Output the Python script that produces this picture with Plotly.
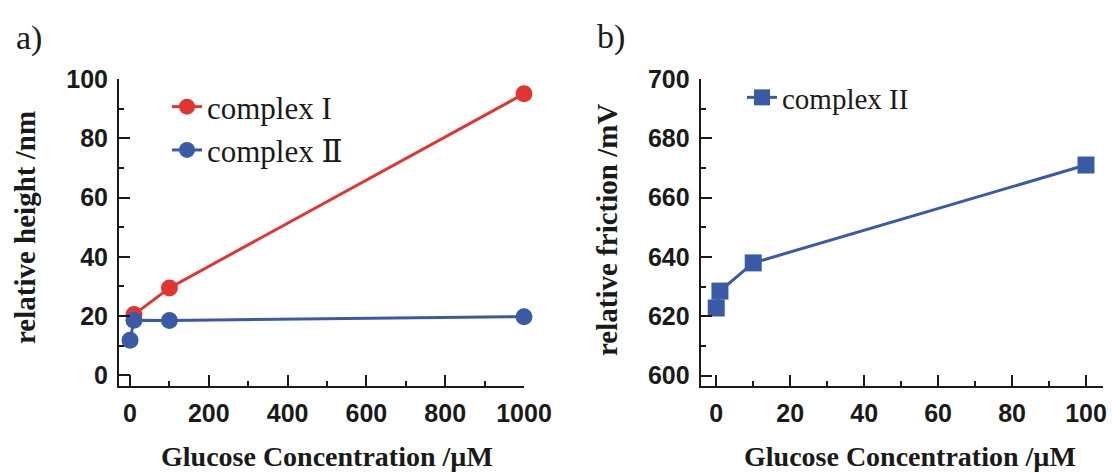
import plotly.graph_objects as go

# ---- data ----
conc_I = [10, 100, 1000]
height_I = [20.5, 29.5, 95]
conc_II = [0, 10, 100, 1000]
height_II = [11.8, 18.6, 18.5, 19.8]
conc_b = [0, 1, 10, 100]
friction_II = [622.8, 628.5, 638, 671]

W, H = 1112, 473
INK = "#1a1a1a"
RED = "#E03531"
BLUE = "#3B5AA6"


def px(x):
    return x / W


def py(y):
    return 1 - y / H


fig = go.Figure()
fig.add_trace(go.Scatter(x=conc_I, y=height_I, mode="lines+markers", name="complex I",
                         line=dict(color=RED, width=3), marker=dict(color=RED, size=17, line=dict(width=0)),
                         xaxis="x", yaxis="y", legend="legend", cliponaxis=False))
fig.add_trace(go.Scatter(x=conc_II, y=height_II, mode="lines+markers", name="complex Ⅱ",
                         line=dict(color=BLUE, width=3), marker=dict(color=BLUE, size=17, line=dict(width=0)),
                         xaxis="x", yaxis="y", legend="legend", cliponaxis=False))
fig.add_trace(go.Scatter(x=conc_b, y=friction_II, mode="lines+markers", name="complex II",
                         line=dict(color=BLUE, width=3),
                         marker=dict(color=BLUE, size=17, symbol="square", line=dict(width=0)),
                         xaxis="x2", yaxis="y2", legend="legend2", cliponaxis=False))

tickfont = dict(family="Liberation Sans", size=25, color=INK, weight="bold")
common = dict(showline=True, linewidth=2, linecolor=INK, ticks="inside", ticklen=11, tickwidth=2,
              tickcolor=INK, showgrid=False, zeroline=False, tickfont=tickfont, ticklabelstandoff=4,
              fixedrange=True)

ydom = [py(386), py(79)]
fig.update_layout(
    width=W, height=H, margin=dict(l=0, r=0, t=0, b=0, autoexpand=False),
    paper_bgcolor="white", plot_bgcolor="white", showlegend=True,
    xaxis=dict(domain=[px(119), px(524)], range=[-28, 1000], tick0=0, dtick=200, anchor="y",
               minor=dict(ticks="inside", ticklen=5, tickwidth=2, tickcolor=INK, dtick=100, showgrid=False),
               **common),
    yaxis=dict(domain=ydom, range=[-3.6, 100], tick0=0, dtick=20, anchor="x",
               minor=dict(ticks="inside", ticklen=5, tickwidth=2, tickcolor=INK, dtick=10, showgrid=False),
               **common),
    xaxis2=dict(domain=[px(700.7), px(1103)], range=[-4.2, 104.6], tick0=0, dtick=20, anchor="y2",
                minor=dict(ticks="inside", ticklen=5, tickwidth=2, tickcolor=INK, dtick=10, showgrid=False),
                **common),
    yaxis2=dict(domain=ydom, range=[596.5, 700], tick0=600, dtick=20, anchor="x2",
                minor=dict(ticks="inside", ticklen=5, tickwidth=2, tickcolor=INK, dtick=10, showgrid=False),
                **common),
    legend=dict(x=px(167), y=py(80), xanchor="left", yanchor="top", bgcolor="rgba(0,0,0,0)",
                font=dict(family="Liberation Serif, DejaVu Serif", size=31, color=INK),
                tracegroupgap=0, itemwidth=30),
    legend2=dict(x=px(742), y=py(72), xanchor="left", yanchor="top", bgcolor="rgba(0,0,0,0)",
                 font=dict(family="Liberation Serif, DejaVu Serif", size=29, color=INK), itemwidth=30),
)

title_font = dict(family="Liberation Serif", size=28, color=INK, weight="bold")
ann = [
    dict(text="a)", x=px(29), y=py(38), font=dict(family="Liberation Serif", size=34, color=INK)),
    dict(text="b)", x=px(611), y=py(37), font=dict(family="Liberation Serif", size=34, color=INK)),
    dict(text="relative height /nm", x=px(25), y=py(228), textangle=-90,
         font=dict(family="Liberation Serif", size=29, color=INK, weight="bold")),
    dict(text="relative friction /mV", x=px(607), y=py(230), textangle=-90,
         font=dict(family="Liberation Serif", size=29, color=INK, weight="bold")),
    dict(text="Glucose Concentration /µM", x=px(327), y=py(456), font=title_font),
    dict(text="Glucose Concentration /µM", x=px(910), y=py(456), font=title_font),
]
for a in ann:
    fig.add_annotation(xref="paper", yref="paper", showarrow=False, xanchor="center", yanchor="middle", **a)

fig.write_html("out.html")
